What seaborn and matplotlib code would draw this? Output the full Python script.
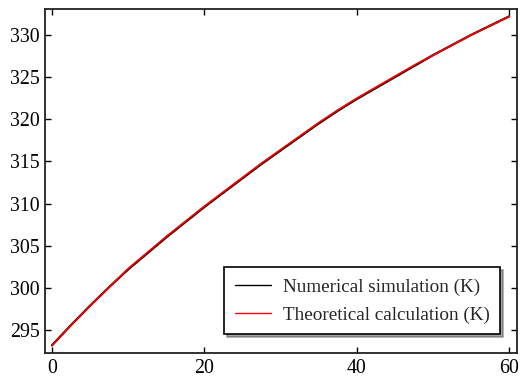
import matplotlib
matplotlib.use("Agg")
import matplotlib.pyplot as plt
import seaborn as sns
import pandas as pd

# Temperature vs. time, read every 2.5 units
time = [0, 2.5, 5, 7.5, 10, 12.5, 15, 17.5, 20, 22.5, 25, 27.5, 30,
        32.5, 35, 37.5, 40, 42.5, 45, 47.5, 50, 52.5, 55, 57.5, 60]
numerical = [293.2, 295.6, 297.9, 300.1, 302.2, 304.1, 306.0, 307.8, 309.6, 311.3, 313.0, 314.7, 316.3,
             317.9, 319.5, 321.0, 322.4, 323.7, 325.0, 326.3, 327.6, 328.8, 330.0, 331.1, 332.2]
theoretical = [293.2, 295.6, 297.9, 300.1, 302.3, 304.2, 306.1, 307.9, 309.7, 311.4, 313.1, 314.8, 316.4,
               318.0, 319.6, 321.1, 322.5, 323.8, 325.1, 326.4, 327.6, 328.8, 330.0, 331.1, 332.2]
series_labels = ["Numerical simulation (K)", "Theoretical calculation (K)"]
x_ticks = [0, 20, 40, 60]
y_ticks = [295, 300, 305, 310, 315, 320, 325, 330]

sns.set_theme(style="ticks")
plt.rcParams["font.family"] = ["Liberation Serif", "DejaVu Serif"]

df = pd.DataFrame({"t": time, "num": numerical, "theo": theoretical})

fig = plt.figure(figsize=(5.21, 3.81), dpi=100)
ax = fig.add_axes([0.0864, 0.0735, 0.9056, 0.9035])

sns.lineplot(data=df, x="t", y="num", ax=ax, color="black", linewidth=1.6,
             label=series_labels[0])
sns.lineplot(data=df, x="t", y="theo", ax=ax, color="#ff0000", linewidth=1.2,
             label=series_labels[1])

ax.set_xlim(-0.9, 61.0)
ax.set_ylim(292.3, 333.1)
ax.set_xticks(x_ticks)
ax.set_yticks(y_ticks)
ax.set_xlabel("")
ax.set_ylabel("")

ax.tick_params(direction="in", length=4, width=1.0, top=True, right=True,
               labelsize=14.3, colors="black", pad=4)
for s in ax.spines.values():
    s.set_linewidth(1.3)
    s.set_color("#222222")

leg = ax.legend(loc="lower right", bbox_to_anchor=(0.965, 0.055),
                fontsize=13.8, frameon=True, fancybox=False, shadow=True,
                handlelength=1.9, handletextpad=0.6, labelspacing=0.55,
                borderpad=0.55, borderaxespad=0.0)
leg.get_frame().set_edgecolor("black")
leg.get_frame().set_linewidth(1.2)
leg.get_frame().set_alpha(1.0)
for line in leg.get_lines():
    line.set_linewidth(1.0)

fig.savefig("out.png", dpi=100)
